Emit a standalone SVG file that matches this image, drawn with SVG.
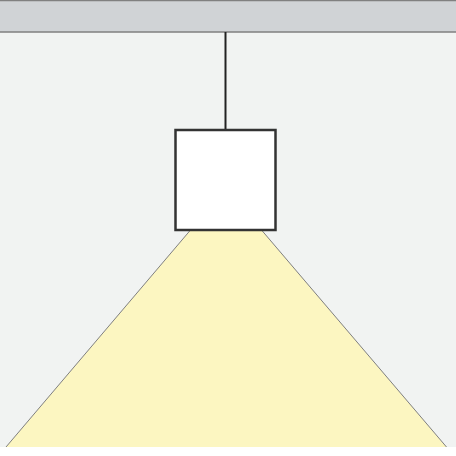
<svg xmlns="http://www.w3.org/2000/svg" width="456" height="456" viewBox="0 0 456 456">
<style>
.bg{fill:#f1f3f2}
.floor{fill:#ffffff}
.ceiling{fill:#d0d3d6;stroke:#808080;stroke-width:1.5}
.beam{fill:#fcf6c1}
.beam-edge{fill:none;stroke:#808080;stroke-width:1}
.wire{stroke:#222;stroke-width:2}
.lamp{fill:#ffffff;stroke:#333;stroke-width:2.5}
</style>
<rect class="bg" x="0" y="0" width="456" height="456"/>
<rect class="floor" x="0" y="447" width="456" height="9"/>
<g id="ceiling"><rect class="ceiling" x="-2" y="0.5" width="460" height="31.5"/></g>
<g id="beam">
<polygon class="beam" points="190.5,230 261.5,230 446.5,447 6,447"/>
<polyline class="beam-edge" points="6,447 190.5,230"/>
<polyline class="beam-edge" points="261.5,230 446.5,447"/>
</g>
<g id="connectors"><line class="wire" x1="225.5" y1="32" x2="225.5" y2="130"/></g>
<g id="lamp"><rect class="lamp" x="175.5" y="130" width="100" height="100"/></g>
</svg>
